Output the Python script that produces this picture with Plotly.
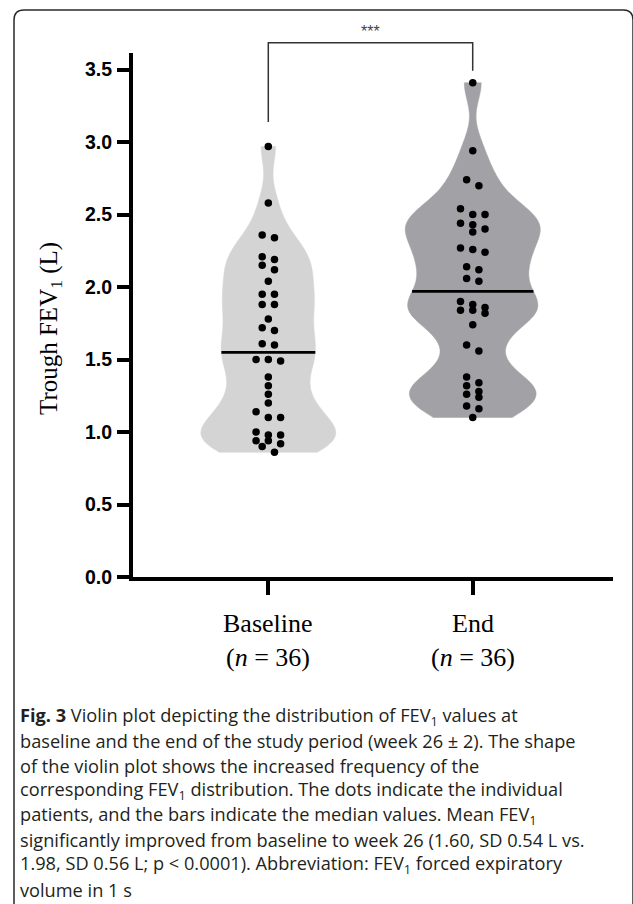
import numpy as np
import plotly.graph_objects as go

# ---------------- data ----------------
categories = ["Baseline", "End"]
n_labels = ["(<i>n</i> = 36)", "(<i>n</i> = 36)"]
baseline_fev1 = [2.97, 2.58, 2.34, 2.36, 2.21, 2.19, 2.15, 2.12, 2.04, 1.95, 1.95, 1.88,
                 1.88, 1.78, 1.70, 1.72, 1.61, 1.60, 1.50, 1.49, 1.50, 1.38, 1.32, 1.26,
                 1.20, 1.14, 1.10, 1.10, 0.98, 1.00, 0.98, 0.92, 0.94, 0.94, 0.90, 0.86]
end_fev1 = [3.41, 2.94, 2.70, 2.74, 2.54, 2.50, 2.50, 2.44, 2.43, 2.38, 2.40, 2.27,
            2.26, 2.24, 2.14, 2.12, 2.04, 2.06, 1.90, 1.88, 1.86, 1.84, 1.84, 1.82,
            1.74, 1.60, 1.56, 1.38, 1.32, 1.34, 1.28, 1.26, 1.24, 1.18, 1.16, 1.10]
y_ticks = [0.0, 0.5, 1.0, 1.5, 2.0, 2.5, 3.0, 3.5]
significance = "***"
caption_lines = [
    "<b>Fig. 3</b> Violin plot depicting the distribution of FEV<sub>1</sub> values at",
    "baseline and the end of the study period (week 26 ± 2). The shape",
    "of the violin plot shows the increased frequency of the",
    "corresponding FEV<sub>1</sub> distribution. The dots indicate the individual",
    "patients, and the bars indicate the median values. Mean FEV<sub>1</sub>",
    "significantly improved from baseline to week 26 (1.60, SD 0.54 L vs.",
    "1.98, SD 0.56 L; p < 0.0001). Abbreviation: FEV<sub>1</sub> forced expiratory",
    "volume in 1 s",
]

# ---------------- layout geometry ----------------
W, H = 633, 904
L, R, T, B = 133, 20, 53, 327
PW, PH = W - L - R, H - T - B
XR = [-0.662, 1.686]
YR = [0, 3.615]

def px2paper_x(px):
    return (px - L) / PW

def px2paper_y(py):
    return (H - B - py) / PH

VIOLIN_W = 0.66
BW = 0.13
colors = ["#d4d4d4", "#a2a2a6"]
DOT_STEP = 0.060
ROW_THR = 0.055

def swarm_offsets(vals):
    order = np.argsort(-np.asarray(vals), kind="stable")
    offs = np.zeros(len(vals))
    rows, cur = [], []
    for i in order:
        if cur and (vals[cur[0]] - vals[i] < ROW_THR) and len(cur) < 3:
            cur.append(i)
        else:
            if cur:
                rows.append(cur)
            cur = [i]
    rows.append(cur)
    for r in rows:
        n = len(r)
        for k, i in enumerate(r):
            offs[i] = (k - (n - 1) / 2) * DOT_STEP
    return offs

def kde_halfwidth(vals, y):
    v = np.asarray(vals)
    grid = np.linspace(v.min(), v.max(), 400)
    dens = lambda t: np.exp(-0.5 * ((t[:, None] - v[None, :]) / BW) ** 2).sum(axis=1)
    return VIOLIN_W / 2 * dens(np.array([y]))[0] / dens(grid).max()

fig = go.Figure()
groups = [baseline_fev1, end_fev1]
for gi, vals in enumerate(groups):
    fig.add_trace(go.Violin(
        y=vals, x0=gi, name=categories[gi], orientation="v",
        spanmode="hard", bandwidth=BW, width=VIOLIN_W, scalemode="width",
        fillcolor=colors[gi], line=dict(color=colors[gi], width=0.5),
        points=False, box_visible=False, meanline_visible=False,
        hoverinfo="skip", showlegend=False,
    ))

for gi, vals in enumerate(groups):
    med = float(np.median(vals))
    hw = kde_halfwidth(vals, med)
    fig.add_trace(go.Scatter(
        x=[gi - hw, gi + hw], y=[med, med], mode="lines",
        line=dict(color="black", width=2.8), showlegend=False, hoverinfo="skip",
    ))
    offs = swarm_offsets(vals)
    fig.add_trace(go.Scatter(
        x=gi + offs, y=vals, mode="markers",
        marker=dict(color="black", size=7.5, line=dict(width=0)),
        showlegend=False, hoverinfo="skip", cliponaxis=False,
    ))

shapes = []
# significance bracket
xl, xr = px2paper_x(268.3), px2paper_x(472.7)
ytop, ylb, yrb = px2paper_y(42.7), px2paper_y(122), px2paper_y(70.7)
shapes.append(dict(type="path", xref="paper", yref="paper",
                   path=f"M {xl} {ylb} L {xl} {ytop} L {xr} {ytop} L {xr} {yrb}",
                   line=dict(color="#333333", width=1.5)))
# rounded frame
fx0, fx1, fy0, fy1 = 14, 633, 10, 910
rr = 10
p = (f"M {px2paper_x(fx0)} {px2paper_y(fy1)} "
     f"L {px2paper_x(fx0)} {px2paper_y(fy0 + rr)} "
     f"Q {px2paper_x(fx0)} {px2paper_y(fy0)} {px2paper_x(fx0 + rr)} {px2paper_y(fy0)} "
     f"L {px2paper_x(fx1 - rr)} {px2paper_y(fy0)} "
     f"Q {px2paper_x(fx1)} {px2paper_y(fy0)} {px2paper_x(fx1)} {px2paper_y(fy0 + rr)} "
     f"L {px2paper_x(fx1)} {px2paper_y(fy1)}")
shapes.append(dict(type="path", xref="paper", yref="paper", path=p,
                   line=dict(color="#2a2a2a", width=1.5)))

serif = "Liberation Serif, Times New Roman, serif"
annotations = [
    dict(text=significance, xref="paper", yref="paper",
         x=(xl + xr) / 2, y=px2paper_y(31), xanchor="center", yanchor="middle",
         showarrow=False, font=dict(family="Liberation Sans, Arial", size=16, color="#444444")),
    dict(text="Trough FEV<sub>1</sub> (L)", xref="paper", yref="paper",
         x=px2paper_x(50), y=px2paper_y(329), xanchor="center", yanchor="middle",
         textangle=-90, showarrow=False,
         font=dict(family=serif, size=25, color="black")),
]
for gi, (c, n) in enumerate(zip(categories, n_labels)):
    annotations.append(dict(text=c, xref="x", yref="paper", x=gi, y=px2paper_y(623),
                            xanchor="center", yanchor="middle", showarrow=False,
                            font=dict(family=serif, size=26, color="black")))
    annotations.append(dict(text=n, xref="x", yref="paper", x=gi, y=px2paper_y(657),
                            xanchor="center", yanchor="middle", showarrow=False,
                            font=dict(family=serif, size=26, color="black")))
cap_y0, cap_dy = 716, 24.8
for i, line in enumerate(caption_lines):
    annotations.append(dict(
        text=line, xref="paper", yref="paper", x=px2paper_x(19), y=px2paper_y(cap_y0 + i * cap_dy),
        xanchor="left", yanchor="middle", showarrow=False, align="left", borderpad=0,
        font=dict(family="Open Sans, Noto Sans", size=18.2, color="#231f20")))

fig.update_layout(
    width=W, height=H, margin=dict(l=L, r=R, t=T, b=B),
    paper_bgcolor="white", plot_bgcolor="white",
    shapes=shapes, annotations=annotations,
    xaxis=dict(range=XR, tickmode="array", tickvals=[0, 1], showticklabels=False,
               showgrid=False, zeroline=False, showline=True, linewidth=4, linecolor="black",
               ticks="outside", ticklen=14, tickwidth=4, tickcolor="black"),
    yaxis=dict(range=YR, tickmode="array", tickvals=y_ticks,
               ticktext=[f"{v:.1f}" for v in y_ticks],
               showgrid=False, zeroline=False, showline=True, linewidth=4, linecolor="black",
               ticks="outside", ticklen=12, tickwidth=4, tickcolor="black",
               ticklabelstandoff=1,
               tickfont=dict(family="Liberation Sans, Arial", size=19.5, color="black", weight="bold")),
)
fig.write_html("out.html", config={"displayModeBar": False},
               post_script="document.body.style.margin='0';")
